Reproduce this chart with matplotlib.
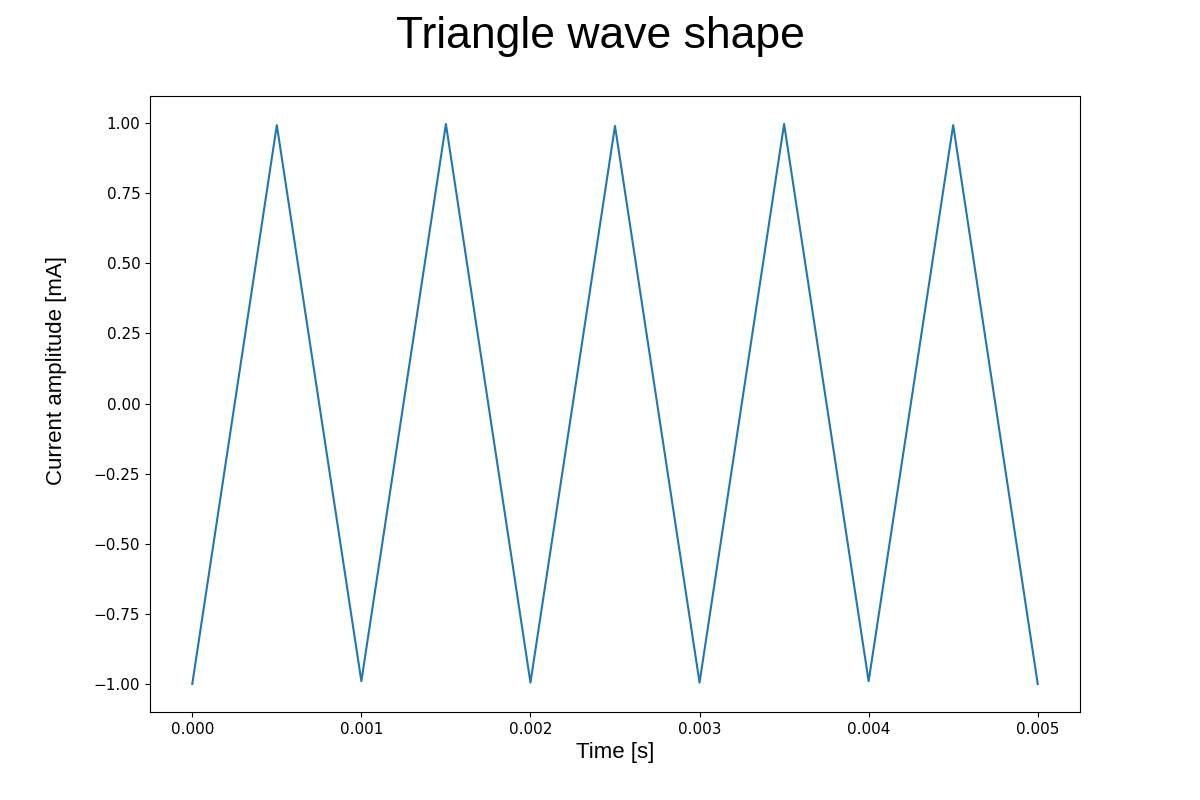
import matplotlib
matplotlib.use("Agg")
import matplotlib.pyplot as plt

time_s = [0.0, 0.0005, 0.001, 0.0015, 0.002, 0.0025, 0.003, 0.0035, 0.004, 0.0045, 0.005]
current_mA = [-1.0, 0.993, -0.99, 0.997, -0.995, 0.99, -0.995, 0.997, -0.99, 0.993, -1.0]

fig, ax = plt.subplots(figsize=(12, 8), dpi=100)
ax.plot(time_s, current_mA, color="#1f77b4", linewidth=1.5)
fig.suptitle("Triangle wave shape", fontsize=32, family=["Liberation Sans", "DejaVu Sans"],
             x=0.5, y=0.98, va="top")
ax.set_xlabel("Time [s]", fontsize=16, family=["Liberation Sans", "DejaVu Sans"])
ax.set_ylabel("Current amplitude [mA]", fontsize=16, family=["Liberation Sans", "DejaVu Sans"],
              labelpad=19, y=0.555)
ax.tick_params(labelsize=11)
fig.savefig("out.png", dpi=100)
